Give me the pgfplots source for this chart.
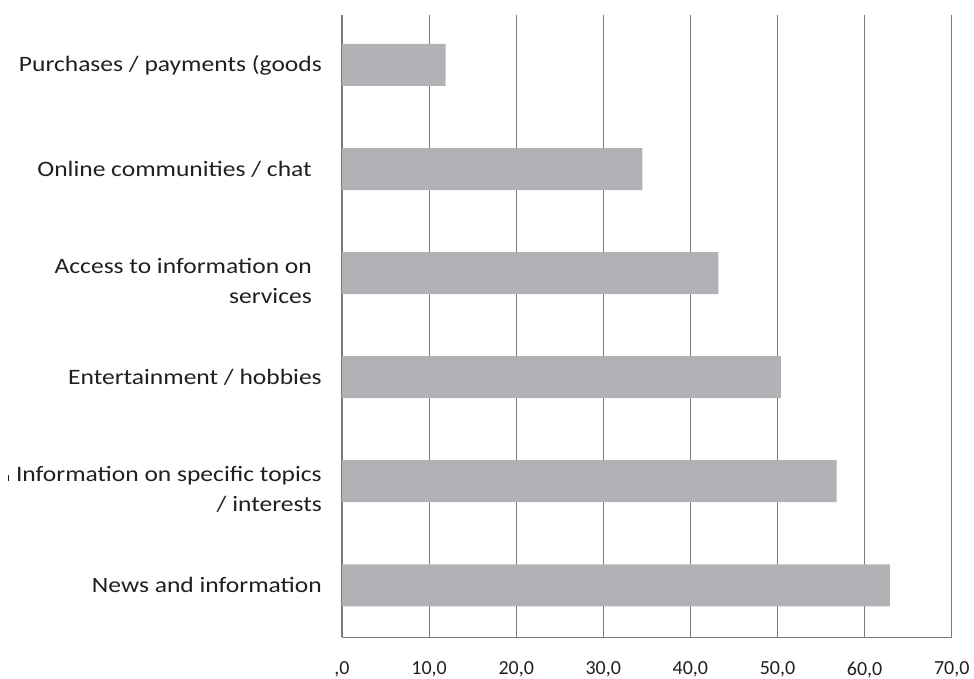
\documentclass[border=0pt]{standalone}
\usepackage{fontspec}
\setmainfont{Carlito}
\newfontfamily\labfont[FakeStretch=1.16]{Carlito}
\usepackage{pgfplots}
\pgfplotsset{compat=1.18}

\definecolor{barcol}{HTML}{B1B2B5}
\definecolor{linecol}{HTML}{7A7A7A}
\definecolor{txtcol}{HTML}{231F20}

\pgfplotstableread{
pos value
0 62.9
1 56.8
2 50.4
3 43.2
4 34.5
5 11.9
}\usedata

\begin{document}
\begin{tikzpicture}
\begin{axis}[
    scale only axis,
    width=609.7pt, height=622.3pt,
    xbar, bar width=42pt,
    xmin=0, xmax=70,
    ymin=-0.5, ymax=5.48,
    axis x line=bottom, axis y line=left,
    axis line style={-, draw=linecol, line width=1.2pt},
    xmajorgrids,
    grid style={draw=linecol, line width=1.2pt},
    major tick length=0pt,
    xtick={0,10,...,70},
    xticklabels={{,0},{10,0},{20,0},{30,0},{40,0},{50,0},{60,0},{70,0}},
    ytick={0,...,5},
    yticklabels={
        {News and information},
        {\rule{0pt}{31pt}\llap{\rule{1pt}{6pt}\hspace{7pt}}Information on specific topics\\/ interests},
        {Entertainment / hobbies},
        {\rule{0pt}{31pt}Access to information on\hspace*{10pt}\\services\hspace*{10pt}},
        {Online communities / chat\hspace*{10pt}},
        {Purchases / payments (goods}},
    ticklabel style={text=txtcol, inner sep=0pt},
    xticklabel style={font=\fontsize{20}{24}\selectfont, anchor=north, yshift=-24pt},
    yticklabel style={font=\labfont\fontsize{22}{30}\selectfont, anchor=east, align=right, xshift=-20pt},
]
\addplot[fill=barcol, draw=none] table[x=value, y=pos] {\usedata};
\end{axis}
\pgfresetboundingbox
\path ([xshift=-342pt,yshift=-40.7pt]current axis.south west) rectangle ([xshift=22.3pt,yshift=15pt]current axis.north east);
\end{tikzpicture}
\end{document}
